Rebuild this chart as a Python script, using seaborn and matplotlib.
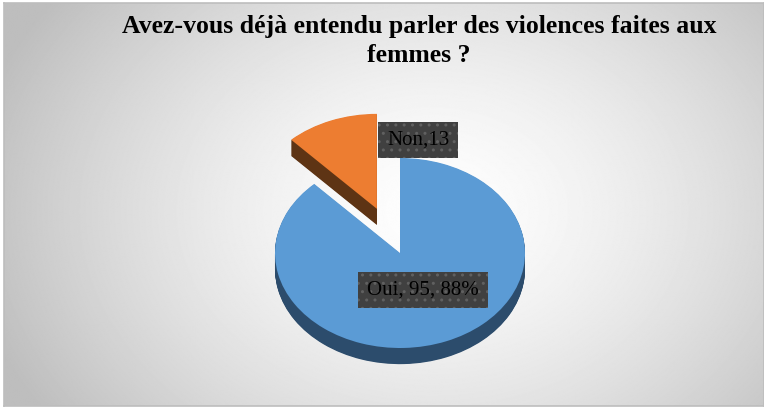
import numpy as np
import matplotlib
matplotlib.use("Agg")
import matplotlib.pyplot as plt
import seaborn as sns

# données du graphique
categories = ["Oui", "Non"]
effectifs = [95, 13]
pourcentages = [88, 12]
eclatement = [0.0, 0.5]
titre = "Avez-vous déjà entendu parler des violences faites aux\nfemmes ?"

sns.set_theme(style="white")
plt.rcParams['font.family'] = ['Liberation Serif', 'DejaVu Serif']

couleurs_dessus = sns.color_palette(["#5B9BD5", "#ED7D31"])
couleurs_cote = sns.color_palette(["#2C4C6C", "#5E3414"])

fig = plt.figure(figsize=(7.64, 4.08), dpi=100)
W, H = 764, 408

# fond dégradé gris (radial)
bg = fig.add_axes([4 / W, 2 / H, 1 - 4 / W, 1 - 5 / H])
yy, xx = np.mgrid[0:H, 0:W]
r = np.sqrt(((xx - 430) / 430.0) ** 2 + ((yy - 210) / 330.0) ** 2)
val = np.clip(254 - 56 * r ** 1.5, 190, 255) / 255.0
bg.imshow(val, cmap="gray", vmin=0, vmax=1, aspect="auto", extent=[0, 1, 0, 1])
bg.set_xticks([])
bg.set_yticks([])
for s in bg.spines.values():
    s.set_color("#BDBDBD")
    s.set_linewidth(1.2)

# camembert 3D : couches empilées pour l'épaisseur
px_x, px_y = 125.0, 95.0   # pixels par unité
cx, cy = 400, H - 253
ax = fig.add_axes([(cx - 1.5 * px_x) / W, (cy - 1.6 * px_y) / H,
                   3.0 * px_x / W, 3.2 * px_y / H])
ax.patch.set_alpha(0)
ax.axis("off")

epaisseur = 0.17
n_couches = 24
for k in range(n_couches, 0, -1):
    ax.pie(effectifs, colors=couleurs_cote, startangle=90, counterclock=False,
           explode=eclatement, center=(0, -epaisseur * k / n_couches),
           wedgeprops=dict(linewidth=0), frame=False)
ax.pie(effectifs, colors=couleurs_dessus, startangle=90, counterclock=False,
       explode=eclatement, center=(0, 0),
       wedgeprops=dict(linewidth=0), frame=False)
ax.set_aspect("auto")
ax.set_xlim(-1.5, 1.5)
ax.set_ylim(-1.6, 1.6)

# étiquettes
boite = dict(boxstyle="square,pad=0.42", fc="#404040", ec="#606060",
             lw=0, hatch="..")
fig.text(418 / W, 1 - 140 / H, f"{categories[1]},{effectifs[1]}",
         ha="center", va="center", fontsize=15, color="black", bbox=boite)
fig.text(423 / W, 1 - 290 / H,
         f"{categories[0]}, {effectifs[0]}, {pourcentages[0]}%",
         ha="center", va="center", fontsize=15, color="black", bbox=boite)

# titre
fig.text(419 / W, 1 - 41 / H, titre, ha="center", va="center",
         fontsize=18.5, fontweight="bold", color="black", linespacing=1.3)

fig.savefig("out.png", dpi=100)
